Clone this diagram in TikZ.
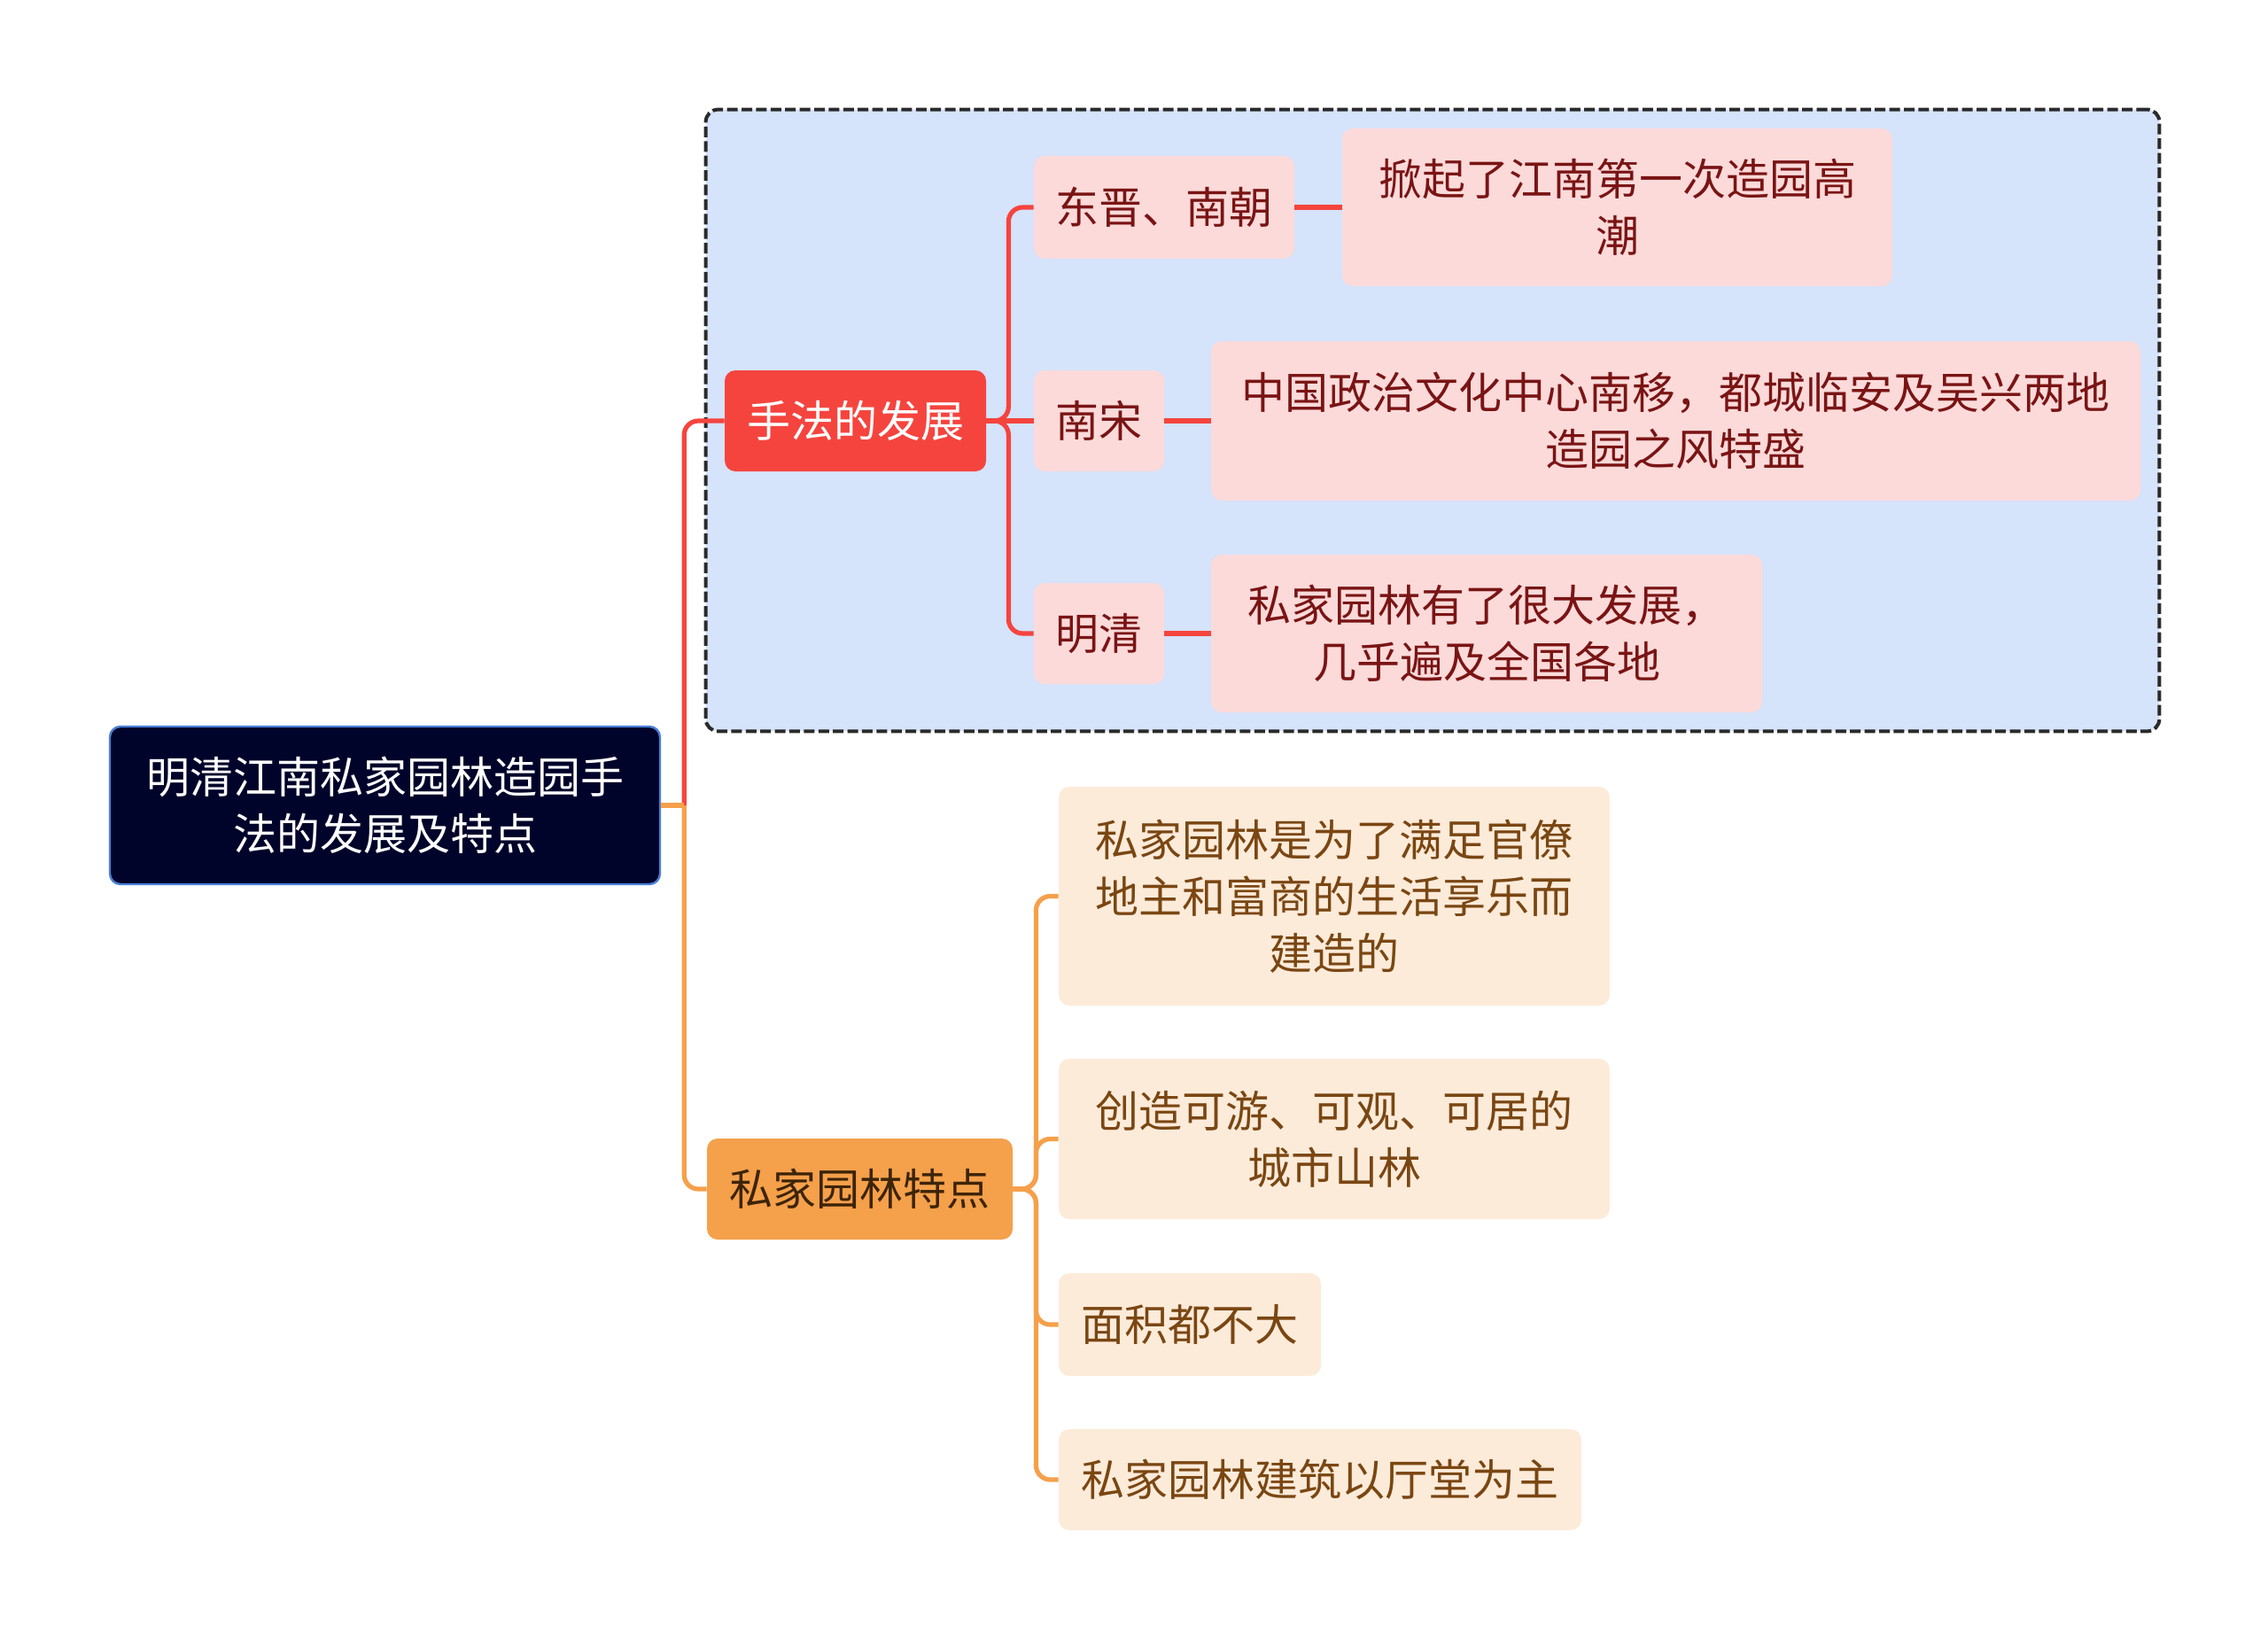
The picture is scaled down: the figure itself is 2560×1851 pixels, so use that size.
\documentclass[tikz,border=0pt]{standalone}
\usepackage{fontspec}
\newfontfamily\cjk{Noto Sans CJK SC}
\usetikzlibrary{fit,backgrounds}
\definecolor{rootfill}{HTML}{00032A}
\definecolor{rootline}{HTML}{4A7FD8}
\definecolor{redmain}{HTML}{F5443E}
\definecolor{redleaf}{HTML}{FCDADA}
\definecolor{redtext}{HTML}{7A1414}
\definecolor{orgmain}{HTML}{F5A04B}
\definecolor{orgleaf}{HTML}{FDEBDA}
\definecolor{orgtext}{HTML}{7A4612}
\definecolor{orgdark}{HTML}{3D2408}
\definecolor{groupfill}{HTML}{D5E3FB}
\definecolor{groupline}{HTML}{2A2A2A}
\begin{document}
\begin{tikzpicture}[x=0.5pt, y=-0.5pt,
  every node/.style={font=\cjk\fontsize{24.5}{32}\selectfont, align=center, inner sep=0pt, rounded corners=6pt},
  sz/.style 2 args={minimum width=#1*0.5pt, minimum height=#2*0.5pt},
  rootbox/.style={draw=rootline, line width=1.2pt, fill=rootfill, text=white},
  redbox/.style={fill=redmain, text=white},
  redleafbox/.style={fill=redleaf, text=redtext},
  orgbox/.style={fill=orgmain, text=orgdark},
  orgleafbox/.style={fill=orgleaf, text=orgtext},
  groupbox/.style={draw=groupline, fill=groupfill, line width=2pt, dash pattern=on 6pt off 2.2pt, rounded corners=7pt},
  redline/.style={draw=redmain, line width=2.6pt, rounded corners=8pt},
  orgline/.style={draw=orgmain, line width=2.6pt, rounded corners=8pt}]
\begin{scope}[on background layer]
\fill[white] (0,0) rectangle (2560,1851);
\end{scope}
\useasboundingbox (0,0) rectangle (2560,1851);
% root
\node[rootbox, sz={621}{178}] (root) at (434.5,909) {明清江南私家园林造园手\\法的发展及特点};
% development of the technique
\node[redbox, sz={295}{114}] (hand) at (965.5,475) {手法的发展};
\node[redleafbox, sz={294}{116}] (dj) at (1314,234) {东晋、南朝};
\node[redleafbox, sz={621}{178}] (xq) at (1825.5,234) {掀起了江南第一次造园高\\潮};
\node[redleafbox, sz={147}{114}] (ns) at (1240.5,475) {南宋};
\node[redleafbox, sz={1049}{180}] (zg) at (1891.5,475) {中国政治文化中心南移，都城临安及吴兴两地\\造园之风特盛};
\node[redleafbox, sz={147}{114}] (mq) at (1240.5,715) {明清};
\node[redleafbox, sz={622}{178}] (sj) at (1678,715) {私家园林有了很大发展，\\几乎遍及全国各地};
\begin{scope}[on background layer]
\node[groupbox, fit=(hand)(dj)(xq)(zg)(sj), inner sep=10.5pt] (grp) {};
\end{scope}
% features
\node[orgbox, sz={345}{114}] (td) at (970.5,1342) {私家园林特点};
\node[orgleafbox, sz={622}{247}] (a1) at (1506,1011.5) {私家园林是为了满足官僚\\地主和富商的生活享乐而\\建造的};
\node[orgleafbox, sz={622}{181}] (a2) at (1506,1285.5) {创造可游、可观、可居的\\城市山林};
\node[orgleafbox, sz={296}{116}] (a3) at (1343,1495) {面积都不大};
\node[orgleafbox, sz={590}{114}] (a4) at (1490,1670) {私家园林建筑以厅堂为主};
% connectors
\coordinate (rj) at ([xshift=13pt]root.east);
\draw[redline] (rj) |- (hand.west);
\draw[orgline] (rj) |- (td.west);
\draw[orgline] (root.east) -- (rj);
\foreach \n in {dj,mq}
  \draw[redline] (hand.east) -- ++(25,0) |- (\n.west);
\draw[redline] (hand.east) -- (ns.west);
\draw[redline] (dj.east) -- (xq.west);
\draw[redline] (ns.east) -- (zg.west);
\draw[redline] (mq.east) -- (sj.west);
\foreach \n in {a1,a2,a3,a4}
  \draw[orgline] (td.east) -- ++(26,0) |- (\n.west);
\end{tikzpicture}
\end{document}
